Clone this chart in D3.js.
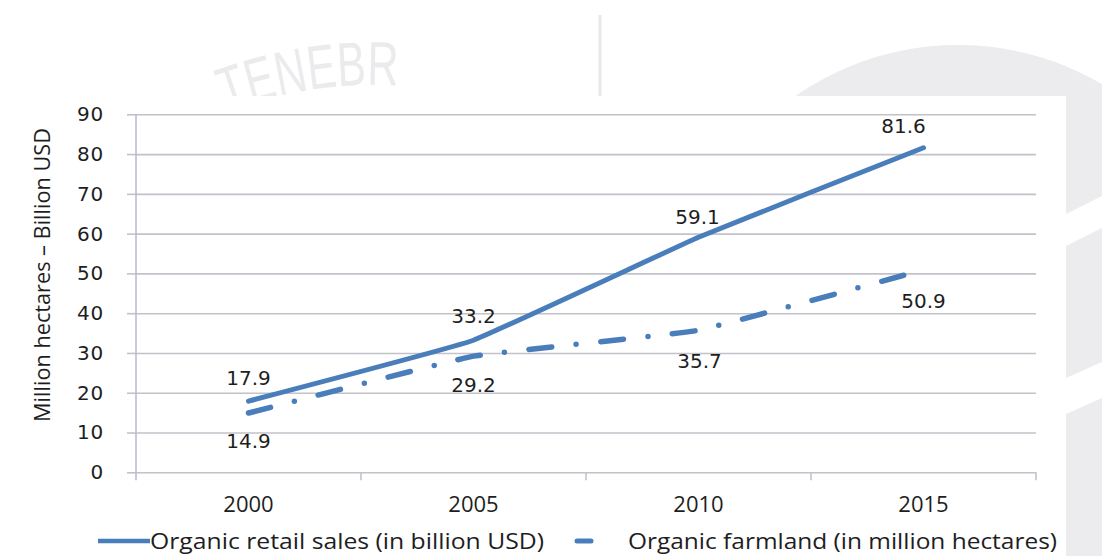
<!DOCTYPE html>
<html>
<head>
<meta charset="utf-8">
<script src="https://cdn.jsdelivr.net/npm/d3@7/dist/d3.min.js"></script>
<style>
  html, body { margin: 0; padding: 0; background: #ffffff; }
  svg { display: block; }
</style>
</head>
<body>
<svg id="chart" width="1102" height="556"></svg>
<script>
// Organic market growth, 2000–2015
const years = ["2000", "2005", "2010", "2015"];
const retailSales = [17.9, 33.2, 59.1, 81.6];   // billion USD
const farmland = [14.9, 29.2, 35.7, 50.9];      // million hectares
const yTicks = [0, 10, 20, 30, 40, 50, 60, 70, 80, 90];
const seriesNames = ["Organic retail sales (in billion USD)", "Organic farmland (in million hectares)"];
const yTitle = "Million hectares \u2013 Billion USD";

// label placement relative to each point: [dx, dy of baseline]
const retailLabelOffset = [[0, -16], [0, -17], [-1, -13], [-20, -15]];
const farmLabelOffset = [[0, 35], [0, 36], [1, 38], [0, 38]];

const W = 1102, H = 556;
const blue = "#4a7ebb";
const ink = "#1e1e1e";
const svg = d3.select("#chart");

// faint backdrop emblem behind the chart panel
const back = svg.append("g");
back.append("circle").attr("cx", 958).attr("cy", 330).attr("r", 285).attr("fill", "#ececef");
back.append("rect").attr("x", 1066).attr("y", 96).attr("width", 40).attr("height", 460).attr("fill", "#ececef");
back.append("path").attr("d", "M1066,214 L1102,196 L1102,228 L1066,246 Z").attr("fill", "#ffffff");
back.append("path").attr("d", "M1066,378 L1102,362 L1102,398 L1066,414 Z").attr("fill", "#ffffff");
back.append("line").attr("x1", 600).attr("x2", 600).attr("y1", 15).attr("y2", 96)
  .attr("stroke", "#e8e8eb").attr("stroke-width", 3);
back.append("path").attr("id", "emblemArc").attr("fill", "none")
  .attr("d", "M170,138 A420,420 0 0 1 470,96");
back.append("text").attr("font-family", "Liberation Sans Narrow, Arial Narrow, sans-serif")
  .attr("font-size", 62).attr("fill", "#ebebee")
  .append("textPath").attr("href", "#emblemArc").attr("startOffset", 62)
  .attr("textLength", 175).attr("lengthAdjust", "spacingAndGlyphs")
  .text("TENEBR");

// chart panel
svg.append("rect").attr("x", 0).attr("y", 96).attr("width", 1066).attr("height", H - 96).attr("fill", "#ffffff");

const x = d3.scaleBand().domain(years).range([136, 1036]);
const y = d3.scaleLinear().domain([0, 90]).range([472.3, 114.3]);
const cx = d => x(d) + x.bandwidth() / 2;

// horizontal gridlines
const grid = svg.append("g").attr("transform", "translate(136,0)")
  .call(d3.axisLeft(y).tickValues(yTicks).tickSize(-900).tickFormat(""));
grid.select(".domain").remove();
grid.selectAll(".tick line").attr("stroke", "#c2c2ca").attr("stroke-width", 1.6);

// y axis: short outer ticks and labels
const yAxis = svg.append("g").attr("transform", "translate(136,0)")
  .call(d3.axisLeft(y).tickValues(yTicks).tickSize(9).tickPadding(23));
yAxis.select(".domain").remove();
yAxis.selectAll(".tick line").attr("stroke", "#c2c2ca").attr("stroke-width", 1.6);
yAxis.selectAll(".tick text")
  .attr("font-family", "DejaVu Sans, Verdana, sans-serif")
  .attr("font-size", 20).attr("letter-spacing", 0.8)
  .attr("fill", ink);

// vertical axis line
svg.append("line").attr("x1", 136).attr("x2", 136).attr("y1", y(90)).attr("y2", y(0) + 8)
  .attr("stroke", "#b9b9d6").attr("stroke-width", 1.6);

// x axis: category labels at band centres, ticks on band boundaries
const xAxis = svg.append("g").attr("transform", `translate(0,${y(0)})`)
  .call(d3.axisBottom(x).tickSize(0).tickPadding(24));
xAxis.select(".domain").remove();
xAxis.selectAll(".tick text")
  .attr("font-family", "Open Sans, sans-serif").attr("font-size", 22).attr("fill", ink);
const bounds = years.map(d => x(d)).concat([x(years[years.length - 1]) + x.bandwidth()]);
svg.append("g").selectAll("line").data(bounds.slice(1)).join("line")
  .attr("x1", d => d).attr("x2", d => d).attr("y1", y(0)).attr("y2", y(0) + 8)
  .attr("stroke", "#c2c2ca").attr("stroke-width", 1.6);

// y axis title
svg.append("text")
  .attr("transform", "translate(50,275) rotate(-90)")
  .attr("text-anchor", "middle")
  .attr("font-family", "Open Sans, sans-serif").attr("font-size", 22).attr("fill", ink)
  .attr("textLength", 294).attr("lengthAdjust", "spacingAndGlyphs")
  .text(yTitle);

// series lines (lightly smoothed)
const line = d3.line().x((d, i) => cx(years[i])).y(d => y(d)).curve(d3.curveCardinal.tension(0.75));
svg.append("path").datum(retailSales).attr("d", line)
  .attr("fill", "none").attr("stroke", blue).attr("stroke-width", 5)
  .attr("stroke-linecap", "round").attr("stroke-linejoin", "round");
svg.append("path").datum(farmland).attr("d", line)
  .attr("fill", "none").attr("stroke", blue).attr("stroke-width", 5.5)
  .attr("stroke-linecap", "round").attr("stroke-linejoin", "round")
  .attr("stroke-dasharray", "23,24.5,0,24.5");

// data labels
const labelFont = "DejaVu Sans, Verdana, sans-serif";
function labels(values, offsets) {
  svg.append("g").selectAll("text").data(values).join("text")
    .attr("x", (d, i) => cx(years[i]) + offsets[i][0])
    .attr("y", (d, i) => y(d) + offsets[i][1])
    .attr("text-anchor", "middle")
    .attr("font-family", labelFont).attr("font-size", 20).attr("fill", ink)
    .text(d => d.toFixed(1));
}
labels(retailSales, retailLabelOffset);
labels(farmland, farmLabelOffset);

// legend
const legY = 541;
const leg = svg.append("g");
leg.append("line").attr("x1", 98).attr("x2", 150).attr("y1", legY).attr("y2", legY)
  .attr("stroke", blue).attr("stroke-width", 4.5);
leg.append("text").attr("x", 150).attr("y", legY + 8)
  .attr("font-family", "Open Sans, sans-serif").attr("font-size", 22).attr("fill", ink)
  .attr("textLength", 394).attr("lengthAdjust", "spacingAndGlyphs")
  .text(seriesNames[0]);
leg.append("line").attr("x1", 577).attr("x2", 591).attr("y1", legY).attr("y2", legY)
  .attr("stroke", blue).attr("stroke-width", 5).attr("stroke-linecap", "round");
leg.append("text").attr("x", 628).attr("y", legY + 8)
  .attr("font-family", "Open Sans, sans-serif").attr("font-size", 22).attr("fill", ink)
  .attr("textLength", 429).attr("lengthAdjust", "spacingAndGlyphs")
  .text(seriesNames[1]);
</script>
</body>
</html>
